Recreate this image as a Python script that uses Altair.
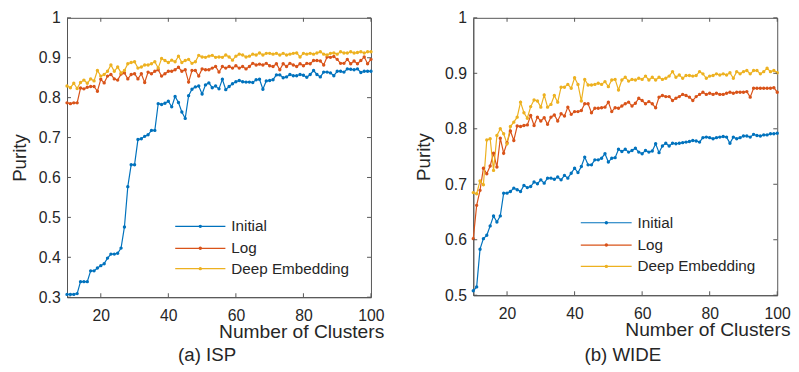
import altair as alt
import pandas as pd

# ---------------- data ----------------
x_vals = list(range(10, 101))
series_names = ["Initial", "Log", "Deep Embedding"]
series_colors = ["#0072BD", "#D95319", "#EDB120"]

isp_initial = [
    0.307, 0.307, 0.307, 0.309, 0.339, 0.339, 0.339, 0.366, 0.366, 0.373,
    0.379, 0.384, 0.398, 0.408, 0.408, 0.410, 0.423, 0.476, 0.577, 0.632,
    0.632, 0.695, 0.697, 0.703, 0.707, 0.718, 0.718, 0.785, 0.783, 0.786,
    0.791, 0.777, 0.803, 0.788, 0.764, 0.748, 0.805, 0.821, 0.827, 0.829,
    0.809, 0.832, 0.837, 0.825, 0.829, 0.822,
    0.846, 0.820, 0.828, 0.835, 0.840, 0.843, 0.840, 0.839, 0.839, 0.838,
    0.845, 0.846, 0.821, 0.842, 0.843, 0.845, 0.857, 0.857, 0.850, 0.852,
    0.858, 0.855, 0.855, 0.858, 0.856, 0.851, 0.858, 0.868, 0.858, 0.852,
    0.864, 0.864, 0.862, 0.855, 0.866, 0.866, 0.864, 0.872, 0.871, 0.870,
    0.872, 0.863, 0.866, 0.866, 0.866,
]
isp_log = [
    0.787, 0.785, 0.787, 0.787, 0.824, 0.822, 0.826, 0.828, 0.828, 0.816,
    0.846, 0.837, 0.854, 0.858, 0.847, 0.844, 0.859, 0.862, 0.847, 0.858,
    0.860, 0.847, 0.860, 0.838, 0.864, 0.860, 0.866, 0.870, 0.854, 0.860,
    0.866, 0.866, 0.870, 0.876, 0.866, 0.870, 0.839, 0.868, 0.868, 0.854,
    0.872, 0.870, 0.870, 0.874, 0.878, 0.864,
    0.878, 0.874, 0.878, 0.874, 0.880, 0.874, 0.878, 0.872, 0.878, 0.886,
    0.882, 0.884, 0.882, 0.886, 0.880, 0.878, 0.885, 0.870, 0.885, 0.878,
    0.886, 0.882, 0.878, 0.885, 0.880, 0.886, 0.885, 0.893, 0.893, 0.892,
    0.882, 0.902, 0.901, 0.903, 0.896, 0.886, 0.886, 0.896, 0.885, 0.892,
    0.885, 0.893, 0.902, 0.885, 0.896,
]
isp_deep = [
    0.829, 0.825, 0.836, 0.823, 0.838, 0.844, 0.836, 0.847, 0.842, 0.868,
    0.854, 0.858, 0.866, 0.882, 0.866, 0.877, 0.862, 0.868, 0.885, 0.888,
    0.890, 0.874, 0.877, 0.882, 0.882, 0.885, 0.890, 0.874, 0.898, 0.893,
    0.888, 0.894, 0.890, 0.904, 0.888, 0.893, 0.896, 0.886, 0.890, 0.906,
    0.902, 0.901, 0.904, 0.906, 0.901, 0.902,
    0.901, 0.907, 0.902, 0.894, 0.904, 0.909, 0.907, 0.902, 0.904, 0.909,
    0.907, 0.912, 0.907, 0.911, 0.911, 0.909, 0.911, 0.907, 0.911, 0.907,
    0.909, 0.911, 0.912, 0.902, 0.911, 0.909, 0.911, 0.909, 0.912, 0.915,
    0.909, 0.907, 0.911, 0.912, 0.909, 0.915, 0.912, 0.912, 0.915, 0.912,
    0.913, 0.915, 0.912, 0.915, 0.915,
]

wide_initial = [
    0.508, 0.515, 0.583, 0.602, 0.608, 0.625, 0.643, 0.632, 0.643, 0.684,
    0.684, 0.687, 0.693, 0.690, 0.687, 0.698, 0.694, 0.696, 0.704, 0.701,
    0.708, 0.702, 0.711, 0.711, 0.709, 0.713, 0.708, 0.716, 0.711, 0.720,
    0.729, 0.721, 0.732, 0.749, 0.735, 0.735, 0.744, 0.744, 0.747, 0.755,
    0.740, 0.747, 0.748, 0.763, 0.759, 0.763,
    0.758, 0.761, 0.765, 0.758, 0.755, 0.761, 0.758, 0.760, 0.773, 0.757,
    0.769, 0.774, 0.769, 0.774, 0.773, 0.774, 0.775, 0.776, 0.777, 0.779,
    0.778, 0.776, 0.784, 0.785, 0.784, 0.782, 0.784, 0.785, 0.786, 0.785,
    0.774, 0.785, 0.782, 0.784, 0.787, 0.787, 0.785, 0.790, 0.788, 0.787,
    0.789, 0.789, 0.791, 0.791, 0.792,
]
wide_log = [
    0.602, 0.662, 0.689, 0.729, 0.719, 0.733, 0.756, 0.731, 0.783, 0.756,
    0.775, 0.796, 0.779, 0.805, 0.804, 0.806, 0.807, 0.824, 0.806, 0.821,
    0.814, 0.820, 0.808, 0.821, 0.825, 0.814, 0.827, 0.823, 0.839, 0.826,
    0.831, 0.831, 0.833, 0.845, 0.845, 0.829, 0.837, 0.837, 0.838, 0.839,
    0.848, 0.831, 0.838, 0.837, 0.841, 0.845,
    0.848, 0.841, 0.846, 0.855, 0.851, 0.845, 0.849, 0.845, 0.838, 0.857,
    0.860, 0.858, 0.858, 0.851, 0.855, 0.858, 0.862, 0.860, 0.857, 0.851,
    0.858, 0.862, 0.866, 0.862, 0.864, 0.862, 0.864, 0.862, 0.862, 0.864,
    0.866, 0.864, 0.866, 0.866, 0.866, 0.867, 0.857, 0.873, 0.873, 0.873,
    0.873, 0.873, 0.873, 0.874, 0.866,
]
wide_deep = [
    0.685, 0.683, 0.706, 0.699, 0.780, 0.782, 0.725, 0.788, 0.800, 0.791,
    0.773, 0.804, 0.812, 0.821, 0.848, 0.829, 0.819, 0.840, 0.852, 0.850,
    0.839, 0.861, 0.839, 0.844, 0.860, 0.848, 0.875, 0.875, 0.880, 0.873,
    0.892, 0.880, 0.850, 0.889, 0.879, 0.879, 0.880, 0.882, 0.880, 0.885,
    0.876, 0.888, 0.889, 0.870, 0.888, 0.893,
    0.886, 0.889, 0.888, 0.891, 0.889, 0.895, 0.888, 0.893, 0.888, 0.893,
    0.889, 0.891, 0.895, 0.903, 0.893, 0.897, 0.891, 0.896, 0.896, 0.895,
    0.896, 0.903, 0.899, 0.891, 0.895, 0.896, 0.899, 0.897, 0.899, 0.897,
    0.901, 0.891, 0.903, 0.899, 0.903, 0.905, 0.899, 0.905, 0.905, 0.899,
    0.903, 0.909, 0.903, 0.905, 0.901,
]

x_ticks = [20, 40, 60, 80, 100]
isp_y_ticks = [0.3, 0.4, 0.5, 0.6, 0.7, 0.8, 0.9, 1.0]
wide_y_ticks = [0.5, 0.6, 0.7, 0.8, 0.9, 1.0]
x_title = "Number of Clusters"
y_title = "Purity"
captions = ["(a) ISP", "(b) WIDE"]

# ---------------- styling ----------------
FONT = "Liberation Sans"
TEXT = "#262626"
AXIS = "#555555"


def long_df(lists):
    rows = []
    for name, vals in zip(series_names, lists):
        for xv, yv in zip(x_vals, vals):
            rows.append({"clusters": xv, "purity": yv, "series": name})
    return pd.DataFrame(rows)


color_enc = alt.Color(
    "series:N",
    scale=alt.Scale(domain=series_names, range=series_colors),
    legend=None,
)


def panel(lists, ymin, yticks, W, H, ytitle_x, leg_rows, leg_x, caption, cap_x, cap_y):
    df = long_df(lists)
    xscale = alt.Scale(domain=[10, 100], nice=False, zero=False)
    yscale = alt.Scale(domain=[ymin, 1.0], nice=False, zero=False)
    xaxis = alt.Axis(
        values=x_ticks, title=x_title,
        titleX=322, titleY=41, titleAlign="right",
        titleBaseline="alphabetic",
        labelPadding=11, labelFontSize=16, titleFontSize=19.5,
        labelFlush=False, labelOverlap=False,
    )
    yaxis = alt.Axis(
        values=yticks, title=y_title,
        labelExpr="datum.value >= 0.999 ? '1' : format(datum.value, '.1f')",
        titleX=ytitle_x, titleY=H / 2, titleAlign="center",
        titleBaseline="middle",
        labelPadding=7, labelFontSize=16, titleFontSize=19,
        labelFlush=False, labelOverlap=False,
    )

    lines = alt.Chart(df).mark_line(
        strokeWidth=1.2,
        point=alt.OverlayMarkDef(filled=True, size=12),
    ).encode(
        x=alt.X("clusters:Q", scale=xscale, axis=xaxis),
        y=alt.Y("purity:Q", scale=yscale, axis=yaxis),
        color=color_enc,
    )

    xt = pd.DataFrame({"clusters": x_ticks})
    yt = pd.DataFrame({"purity": yticks})
    tick_layers = [
        alt.Chart(xt).mark_rule(color=AXIS, strokeWidth=1).encode(
            x=alt.X("clusters:Q", scale=xscale, axis=xaxis),
            y=alt.value(H), y2=alt.value(H - 4)),
        alt.Chart(xt).mark_rule(color=AXIS, strokeWidth=1).encode(
            x=alt.X("clusters:Q", scale=xscale, axis=xaxis),
            y=alt.value(0), y2=alt.value(4)),
        alt.Chart(yt).mark_rule(color=AXIS, strokeWidth=1).encode(
            y=alt.Y("purity:Q", scale=yscale, axis=yaxis),
            x=alt.value(0), x2=alt.value(4)),
        alt.Chart(yt).mark_rule(color=AXIS, strokeWidth=1).encode(
            y=alt.Y("purity:Q", scale=yscale, axis=yaxis),
            x=alt.value(W - 4), x2=alt.value(W)),
    ]

    lx0, lx1, lxm, lxt = leg_x
    legend_layers = []
    for i, name in enumerate(series_names):
        ld = pd.DataFrame({"series": [name]})
        yy = leg_rows[i]
        legend_layers.append(
            alt.Chart(ld).mark_rule(strokeWidth=1.2).encode(
                x=alt.value(lx0), x2=alt.value(lx1), y=alt.value(yy), color=color_enc))
        legend_layers.append(
            alt.Chart(ld).mark_point(filled=True, size=12, opacity=1).encode(
                x=alt.value(lxm), y=alt.value(yy), color=color_enc))
        legend_layers.append(
            alt.Chart(ld).mark_text(
                align="left", baseline="middle", font=FONT, fontSize=15.5, color=TEXT
            ).encode(x=alt.value(lxt), y=alt.value(yy), text="series:N"))

    cap = alt.Chart(pd.DataFrame({"caption": [caption]})).mark_text(
        align="center", baseline="alphabetic", font=FONT, fontSize=19, color=TEXT
    ).encode(x=alt.value(cap_x), y=alt.value(cap_y), text="caption:N")

    return alt.layer(lines, *tick_layers, *legend_layers, cap).properties(
        width=W, height=H
    )


left = panel([isp_initial, isp_log, isp_deep], 0.3, isp_y_ticks, 309, 284, -48,
             [212.0, 234.3, 255.0], (110, 161, 135.5, 167),
             captions[0], 142.4, 348.7)
right = panel([wide_initial, wide_log, wide_deep], 0.5, wide_y_ticks, 309, 282, -50,
              [208.3, 231.0, 252.7], (109.3, 161, 135.3, 167),
              captions[1], 152, 348.7)

chart = alt.hconcat(left, right, spacing=30).properties(
    padding={"left": 2, "top": -2, "right": 0, "bottom": 0},
    background="white",
).configure_view(
    stroke=AXIS, strokeWidth=1
).configure_axis(
    labelFont=FONT, titleFont=FONT, labelColor=TEXT, titleColor=TEXT,
    titleFontWeight="normal", domainColor=AXIS, domainWidth=1,
    ticks=False, tickSize=0, grid=False,
)

chart.save("out.html", embed_options={"renderer": "svg", "actions": False})
